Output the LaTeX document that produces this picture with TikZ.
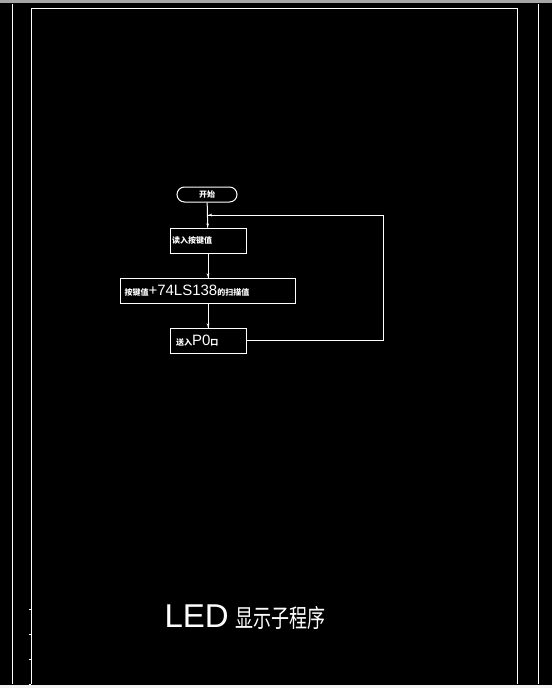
\documentclass[tikz,border=0pt]{standalone}
\usepackage{fontspec}
\setmainfont{Liberation Sans}
\newfontfamily\cjk{Noto Sans CJK SC}
\newfontfamily\cjknarrow[FakeStretch=0.72]{Noto Sans CJK SC}
\usetikzlibrary{arrows}
\usetikzlibrary{decorations.markings}
\tikzset{->/.style = {decoration={markings,
                                  mark=at position 1 with {\arrow[scale=0.7]{latex'}}},
                      postaction={decorate}}}
\tikzset{mbox/.style = {draw, rectangle, minimum height=25pt, inner ysep=0pt, align=left,
                        font=\fontsize{15}{15}\selectfont}}
\tikzset{mterm/.style = {draw, rectangle, rounded corners=7.5pt, minimum width=60pt,
                         minimum height=15pt, inner sep=0pt, font=\cjk\bfseries\fontsize{8}{8}\selectfont}}
\tikzset{frame/.style = {white, line width=1pt}}
\newcommand{\zh}[1]{{\cjk\bfseries\fontsize{8}{8}\selectfont #1}}

\begin{document}
\begin{tikzpicture}[x=1pt, y=-1pt, line width=1pt, white, text=white]
      \fill [black] (0, 0) rectangle (552, 688);
      \useasboundingbox (0, 0) rectangle (552, 688);
      \fill [gray!70] (0, 0) rectangle (552, 3);
      \fill [gray!10] (0, 685) rectangle (552, 688);
      % sheet border
      \draw [frame] (12, 4) -- (12, 684);
      \draw [frame] (538, 4) -- (538, 684);
      \draw [frame] (31, 684) -- (31, 8) -- (517, 8) -- (517, 684);
      \foreach \y in {609, 634, 659, 684}
        \draw [line width=0.8pt] (29, \y) -- (31, \y);
      % flow
      \node [mterm] (0) at (207, 194.5) {开始};
      \node [mbox, text width=72pt, inner xsep=2pt] (1) at (208, 240.5) {\zh{读入按键值}};
      \node [mbox, text width=167pt, inner xsep=4pt] (2) at (208, 290.5) {\zh{按键值}+74LS138\zh{的扫描值}};
      \node [mbox, text width=64pt, inner xsep=6pt] (3) at (208, 340.5) {\zh{送入}P0\zh{口}};
      \coordinate (r) at (383, 215);
      \coordinate (j) at (208, 215);
      \draw (0) edge [->] (1);
      \draw (1) edge [->] (2);
      \draw (2) edge [->] (3);
      \draw [->] (3.east) -| (r) -- (j);
      % title
      \node [anchor=base west, inner sep=0pt] (t) at (164, 627)
            {\fontsize{33}{33}\selectfont LED\hspace{7pt}{\cjknarrow\fontsize{25}{25}\selectfont 显示子程序}};
    \end{tikzpicture}
\end{document}
